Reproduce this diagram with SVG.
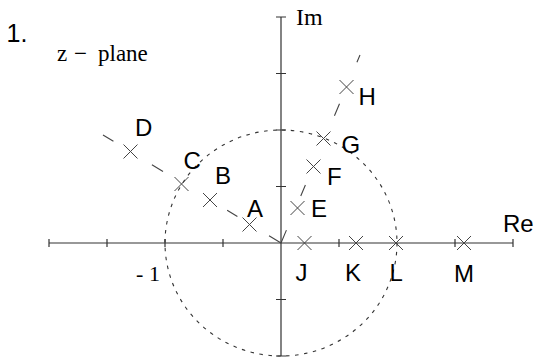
<svg xmlns="http://www.w3.org/2000/svg" width="537" height="360" viewBox="0 0 537 360">
<defs>
<style>
.ax{stroke:#333;stroke-width:1.2;fill:none}
.x{stroke:#444;stroke-width:1;fill:none}
.dash{stroke:#444;stroke-width:1.1;fill:none;stroke-dasharray:14,37,12,75,13,45,13,100}
.dot{stroke:#333;stroke-width:1.1;fill:none;stroke-dasharray:3.5,5.5}
.lbl{font-family:"Liberation Sans",Arial,sans-serif;font-size:24px;fill:#000}
.ser{font-family:"Liberation Serif","Times New Roman",serif;fill:#000}
</style>
<path id="cr" d="M-7,-7L7,7M-7,7L7,-7"/>
</defs>
<rect width="537" height="360" fill="#fff"/>
<g id="axes">
<path class="ax" d="M49,243H513M281,17V356"/>
<path class="ax" d="M49,239V247M107,239V247M165,239V247M223,239V247M339,239V247M455,239V247M513,239V247"/>
<path class="ax" d="M276,17H286M276,73.5H286M276,130H286M276,186.5H286M276,299.5H286M276,356H286"/>
</g>
<g id="connectors">
<ellipse class="dot" cx="281" cy="243" rx="116" ry="113"/>
<path class="dash" d="M281,243L103,135"/>
<path class="dash" d="M281,243L360,55"/>
</g>
<g id="A"><use href="#cr" class="x" x="249.5" y="224.5"/><text class="lbl" x="247" y="217">A</text></g>
<g id="B"><use href="#cr" class="x" x="210" y="200"/><text class="lbl" x="215" y="183.5">B</text></g>
<g id="C"><use href="#cr" class="x" x="181.5" y="184"/><text class="lbl" x="183.5" y="168.5">C</text></g>
<g id="D"><use href="#cr" class="x" x="130.5" y="151.5"/><text class="lbl" x="135" y="136">D</text></g>
<g id="E"><use href="#cr" class="x" x="297.5" y="208"/><text class="lbl" x="311" y="217">E</text></g>
<g id="F"><use href="#cr" class="x" x="313.5" y="166.5"/><text class="lbl" x="327" y="184.5">F</text></g>
<g id="G"><use href="#cr" class="x" x="323.5" y="138.5"/><text class="lbl" x="341.5" y="152.5">G</text></g>
<g id="H"><use href="#cr" class="x" x="346.5" y="87"/><text class="lbl" x="358.5" y="105">H</text></g>
<g id="J"><use href="#cr" class="x" x="304.5" y="243"/><text class="lbl" x="295.5" y="281">J</text></g>
<g id="K"><use href="#cr" class="x" x="356" y="243"/><text class="lbl" x="345" y="281">K</text></g>
<g id="L"><use href="#cr" class="x" x="396" y="243"/><text class="lbl" x="389.5" y="281">L</text></g>
<g id="M"><use href="#cr" class="x" x="464" y="243"/><text class="lbl" x="454" y="281.5">M</text></g>
<g id="labels">
<text class="lbl" x="503" y="231.5">Re</text>
<text class="ser" x="296" y="24.5" font-size="24">Im</text>
<text class="ser" x="136" y="280.5" font-size="22">-</text>
<text class="ser" x="149" y="280.5" font-size="22">1</text>
<text class="lbl" x="6.5" y="41.5" style="font-size:25px">1.</text>
<text class="ser" x="57" y="60.5" font-size="23">z</text>
<text class="ser" x="74" y="60.5" font-size="23">−</text>
<text class="ser" x="98" y="60.5" font-size="23">plane</text>
</g>
</svg>
